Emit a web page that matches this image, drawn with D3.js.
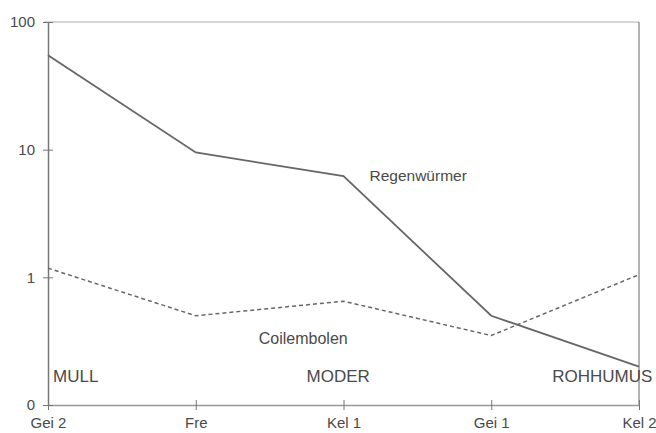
<!DOCTYPE html>
<html>
<head>
<meta charset="utf-8">
<script src="https://cdn.jsdelivr.net/npm/d3@7"></script>
<style>
  body { margin: 0; background: #fff; }
  text { font-family: "Liberation Sans", Arial, sans-serif; fill: #4a4a4a; }
</style>
</head>
<body>
<div id="chart"></div>
<script>
// DATA
const sites = ['Gei 2', 'Fre', 'Kel 1', 'Gei 1', 'Kel 2'];
const regenwuermer = [55, 9.5, 6.2, 0.5, 0.2];
const collembolen = [1.18, 0.5, 0.65, 0.35, 1.05];
const yTicks = [0.1, 1, 10, 100];
const yTickLabels = ['0', '1', '10', '100'];
const humusTypes = ['MULL', 'MODER', 'ROHHUMUS'];

// SETTINGS
const width = 656, height = 433;
const margin = { top: 22, right: 17, bottom: 28, left: 48 };
const lineColor = '#666';

const svg = d3.select('#chart').append('svg')
    .attr('width', width)
    .attr('height', height);

// SCALES
const x = d3.scalePoint().domain(sites).range([margin.left, width - margin.right]);
const y = d3.scaleLog().domain([0.1, 100]).range([height - margin.bottom, margin.top]);

// frame (top + right)
svg.append('line')
    .attr('x1', margin.left - 4).attr('x2', width - margin.right)
    .attr('y1', y(100)).attr('y2', y(100))
    .attr('stroke', '#c8c8c8').attr('stroke-width', 1.5);
svg.append('line')
    .attr('x1', width - margin.right).attr('x2', width - margin.right)
    .attr('y1', y(100)).attr('y2', y(0.1))
    .attr('stroke', '#999').attr('stroke-width', 1.5);

// AXES
const xAxis = d3.axisBottom(x).tickSize(5).tickSizeOuter(0);
const yAxis = d3.axisLeft(y)
    .tickValues(yTicks)
    .tickSize(5)
    .tickSizeOuter(0)
    .tickFormat((d, i) => yTickLabels[i]);

const xAxisGroup = svg.append('g')
    .attr('transform', `translate(0, ${height - margin.bottom})`)
    .call(xAxis);
xAxisGroup.select('.domain').attr('stroke', '#999').attr('stroke-width', 1.5);
xAxisGroup.selectAll('.tick line').attr('y1', -5).attr('stroke', '#777');
xAxisGroup.selectAll('.tick text')
    .attr('y', 12)
    .style('font-size', '15px')
    .attr('fill', '#4a4a4a');

const yAxisGroup = svg.append('g')
    .attr('transform', `translate(${margin.left}, 0)`)
    .call(yAxis);
yAxisGroup.select('.domain').attr('stroke', '#777').attr('stroke-width', 1.5);
yAxisGroup.selectAll('.tick line').attr('x1', 5).attr('stroke', '#777');
yAxisGroup.selectAll('.tick text')
    .attr('x', -13)
    .style('font-size', '15px')
    .attr('fill', '#4a4a4a');

// LINES
const line = d3.line()
    .x((d, i) => x(sites[i]))
    .y(d => y(d));

svg.append('path')
    .datum(regenwuermer)
    .attr('fill', 'none')
    .attr('stroke', lineColor)
    .attr('stroke-width', 1.8)
    .attr('d', line);

svg.append('path')
    .datum(collembolen)
    .attr('fill', 'none')
    .attr('stroke', lineColor)
    .attr('stroke-width', 1.5)
    .attr('stroke-dasharray', '4,3')
    .attr('d', line);

// LABELS
svg.append('text')
    .attr('x', x('Kel 1') + 26)
    .attr('y', y(6.2) + 5)
    .style('font-size', '15.5px')
    .text('Regenwürmer');

svg.append('text')
    .attr('x', x('Fre') + 63)
    .attr('y', y(0.3))
    .style('font-size', '16px')
    .text('Coilembolen');

const humusPos = [
    { x: x('Gei 2') + 5, anchor: 'start' },
    { x: x('Kel 1') - 37, anchor: 'start' },
    { x: x('Gei 1') + 61, anchor: 'start' }
];
svg.selectAll('.humus')
    .data(humusTypes)
    .enter().append('text')
    .attr('class', 'humus')
    .attr('x', (d, i) => humusPos[i].x)
    .attr('y', y(0.1) - 23)
    .attr('text-anchor', (d, i) => humusPos[i].anchor)
    .style('font-size', '17px')
    .text(d => d);
</script>
</body>
</html>
